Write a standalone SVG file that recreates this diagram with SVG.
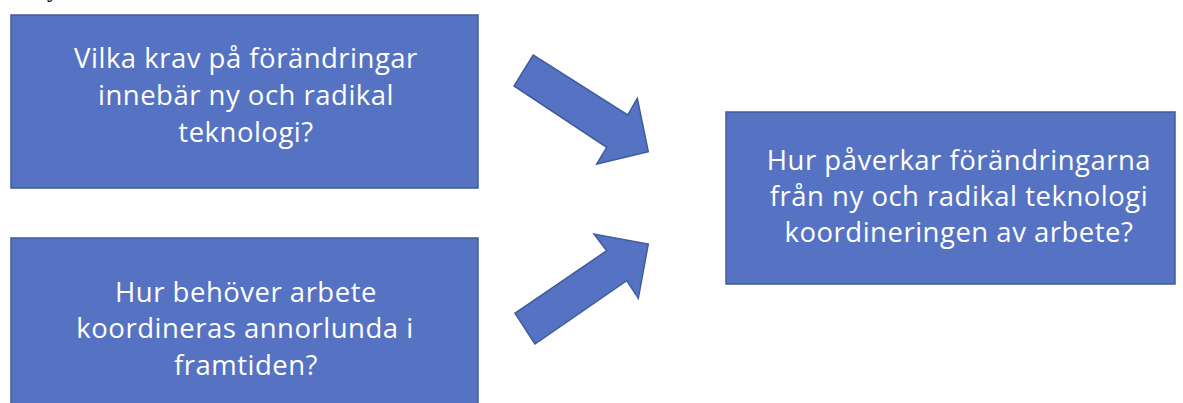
<svg xmlns="http://www.w3.org/2000/svg" width="1183" height="403" viewBox="0 0 1183 403">
<style>
.box{fill:#5572C3;stroke:#3F5D9C;stroke-width:1.5}
.arrow{fill:#5572C3;stroke:#3F5D9C;stroke-width:1.5;stroke-linejoin:miter}
.t{font-family:"Open Sans",Lato,sans-serif;font-size:27.5px;letter-spacing:0.5px;fill:#ffffff;text-anchor:middle}
.frag{font-family:"Liberation Serif",serif;font-size:24px;fill:#000000}
</style>
<rect width="1183" height="403" fill="#ffffff"/>
<text class="frag" x="47" y="-3">y</text>
<g id="node-krav">
<rect class="box" x="11" y="15" width="467" height="173"/>
<text class="t" x="246" y="68">Vilka krav på förändringar</text>
<text class="t" x="246" y="105">innebär ny och radikal</text>
<text class="t" x="246" y="142">teknologi?</text>
</g>
<g id="node-koordineras">
<rect class="box" x="11" y="238" width="467" height="190"/>
<text class="t" x="246" y="302">Hur behöver arbete</text>
<text class="t" x="245" y="338">koordineras annorlunda i</text>
<text class="t" x="246" y="375">framtiden?</text>
</g>
<g id="node-paverkar">
<rect class="box" x="726" y="112" width="449" height="172"/>
<text class="t" x="959" y="170">Hur påverkar förändringarna</text>
<text class="t" x="959" y="206">från ny och radikal teknologi</text>
<text class="t" x="959" y="242">koordineringen av arbete?</text>
</g>
<g id="connectors">
<polygon class="arrow" points="533.3,55 514,86 606.7,147.3 596.7,164 648.3,151.7 637.3,98.3 627.7,115"/>
<polygon class="arrow" points="535,344 515,313.3 606.7,250.7 594,234 648.3,244 638.3,298.3 626.7,280.7"/>
</g>
</svg>
